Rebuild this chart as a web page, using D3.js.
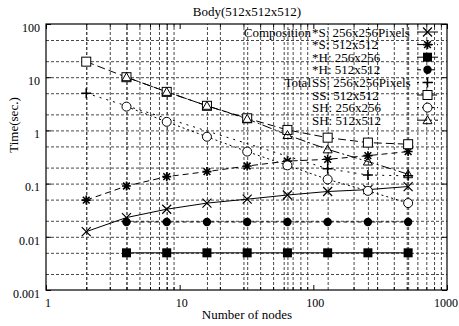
<!DOCTYPE html>
<html>
<head>
<meta charset="utf-8">
<script src="https://cdn.jsdelivr.net/npm/d3@7"></script>
<style>
  body { margin: 0; background: #fff; }
  text { font-family: "Liberation Serif", "DejaVu Serif", serif; fill: #000; }
</style>
</head>
<body>
<script>
var w = 459;
var h = 326;
var margin = {top: 24, right: 12, bottom: 36, left: 46};

// number of nodes on the x axis
const nodes = [2, 4, 8, 16, 32, 64, 128, 256, 512];

// composition times (sec.)
const compS256 = [0.0125, 0.023, 0.033, 0.043, 0.051, 0.061, 0.071, 0.077, 0.088];
const compS512 = [0.049, 0.09, 0.135, 0.168, 0.214, 0.265, 0.286, 0.335, 0.40];
const compH256 = [null, 0.005, 0.005, 0.005, 0.005, 0.005, 0.005, 0.005, 0.005];
const compH512 = [null, 0.019, 0.019, 0.019, 0.019, 0.019, 0.019, 0.019, 0.019];

// total times (sec.)
const totalSS256 = [5.0, null, null, null, null, null, 0.19, 0.145, 0.14];
const totalSS512 = [19.6, 10, 5.3, 2.9, 1.69, 1.02, 0.73, 0.59, 0.55];
const totalSH256 = [null, 2.8, 1.45, 0.76, 0.40, 0.22, 0.12, 0.073, 0.043];
const totalSH512 = [null, 10, 5.3, 2.9, 1.65, 0.82, 0.44, 0.26, 0.15];

const xTicks = [1, 10, 100, 1000];
const yTicks = [100, 10, 1, 0.1, 0.01, 0.001];

const seriesNames = [
  ["Composition ", "*S: 256x256Pixels"],
  ["", "*S: 512x512"],
  ["", "*H: 256x256"],
  ["", "*H: 512x512"],
  ["Total ", "SS: 256x256Pixels"],
  ["", "SS: 512x512"],
  ["", "SH: 256x256"],
  ["", "SH: 512x512"]
];
const seriesValues = [compS256, compS512, compH256, compH512, totalSS256, totalSS512, totalSH256, totalSH512];
const seriesMarks = ["times", "star", "fsquare", "fcircle", "plus", "square", "circle", "triangle"];
const seriesDash = [null, "6,4", null, "4,3", "2,5", "8,4", "2,3", "10,3,2,3"];

window.onload = function() {
  var iw = w - margin.left - margin.right;
  var ih = h - margin.top - margin.bottom;

  var svg = d3.select("body").append("svg")
      .attr("width", w)
      .attr("height", h);

  var g = svg.append("g")
      .attr("transform", "translate(" + margin.left + "," + margin.top + ")");

  var x = d3.scaleLog().domain([1, 1000]).range([0, iw]);
  var y = d3.scaleLog().domain([0.001, 100]).range([ih, 0]);

  // minor values
  var xMinor = [];
  [1, 10, 100].forEach(function(d) {
    for (var k = 2; k <= 9; k++) xMinor.push(d * k);
  });
  var yGrid = [];
  [0.001, 0.01, 0.1, 1, 10].forEach(function(d) {
    yGrid.push(d * 2, d * 5);
    if (d > 0.001) yGrid.push(d);
  });

  // grid lines
  g.append("g")
      .attr("class", "grid")
      .attr("transform", "translate(0," + ih + ")")
      .call(d3.axisBottom(x).tickValues(xMinor.concat(nodes)).tickSize(-ih).tickFormat(""));
  g.append("g")
      .attr("class", "grid")
      .call(d3.axisLeft(y).tickValues(yGrid).tickSize(-iw).tickFormat(""));
  g.selectAll(".grid .domain").remove();
  g.selectAll(".grid line")
      .attr("stroke", "#333")
      .attr("stroke-width", 0.9)
      .attr("stroke-dasharray", "3,2");

  // series lines
  var line = d3.line()
      .defined(function(d) { return d[1] != null; })
      .x(function(d) { return x(d[0]); })
      .y(function(d) { return y(d[1]); });

  seriesValues.forEach(function(vals, i) {
    var pts = nodes.map(function(n, j) { return [n, vals[j]]; })
        .filter(function(d) { return d[1] != null; });
    g.append("path")
        .datum(pts)
        .attr("fill", "none")
        .attr("stroke", "#000")
        .attr("stroke-width", 1)
        .attr("stroke-dasharray", seriesDash[i])
        .attr("d", line);
  });

  // markers
  seriesValues.forEach(function(vals, i) {
    var pts = nodes.map(function(n, j) { return [n, vals[j]]; })
        .filter(function(d) { return d[1] != null; });
    pts.forEach(function(d) {
      drawMark(g, seriesMarks[i], x(d[0]), y(d[1]));
    });
  });

  // axes with inward ticks
  var axisStyle = function(sel) {
    sel.selectAll("line").attr("stroke", "#000");
    sel.select(".domain").remove();
    sel.selectAll("text").style("font-size", "12px")
        .style("font-family", "Liberation Serif, serif");
  };
  g.append("g").attr("transform", "translate(0," + ih + ")")
      .call(d3.axisBottom(x).tickValues(xTicks).tickFormat(d3.format("")).tickSize(-5).tickPadding(8))
      .call(axisStyle)
      .selectAll("text").attr("dx", function(d) { return d == 1000 ? "-1.5" : "1.5"; });
  g.append("g").attr("transform", "translate(0," + ih + ")")
      .call(d3.axisBottom(x).tickValues(xMinor).tickFormat("").tickSize(-3))
      .call(axisStyle);
  g.append("g")
      .call(d3.axisTop(x).tickValues(xTicks).tickFormat("").tickSize(-5))
      .call(axisStyle);
  g.append("g")
      .call(d3.axisTop(x).tickValues(xMinor).tickFormat("").tickSize(-3))
      .call(axisStyle);
  g.append("g")
      .call(d3.axisLeft(y).tickValues(yTicks).tickFormat(function(d) { return String(d); }).tickSize(-5).tickPadding(6))
      .call(axisStyle)
      .selectAll("text").attr("dy", "0.6em");
  g.append("g").attr("transform", "translate(" + iw + ",0)")
      .call(d3.axisRight(y).tickValues(yTicks).tickFormat("").tickSize(-5))
      .call(axisStyle);

  // frame
  g.append("rect")
      .attr("width", iw)
      .attr("height", ih)
      .attr("fill", "none")
      .attr("stroke", "#000")
      .attr("stroke-width", 1.2);

  // legend
  var legend = g.append("g")
      .attr("transform", "translate(" + (312 - margin.left) + "," + (32 - margin.top) + ")");
  seriesNames.forEach(function(nm, i) {
    var ly = i * 12.6;
    var row = legend.append("g").attr("transform", "translate(0," + ly + ")");
    if (nm[0] != "") {
      row.append("text").attr("x", -1).attr("dy", "0.35em")
          .attr("text-anchor", "end").style("font-size", "13px").text(nm[0]);
    }
    row.append("text").attr("x", 0).attr("dy", "0.35em")
        .style("font-size", "13px").text(nm[1]);
    row.append("line")
        .attr("x1", 105).attr("x2", 126)
        .attr("stroke", "#000")
        .attr("stroke-width", 1)
        .attr("stroke-dasharray", seriesDash[i]);
    drawMark(row, seriesMarks[i], 115.5, 0);
  });

  // titles
  svg.append("text")
      .attr("x", 247).attr("y", 16)
      .attr("text-anchor", "middle")
      .style("font-size", "13px")
      .text("Body(512x512x512)");
  svg.append("text")
      .attr("x", 247).attr("y", 319)
      .attr("text-anchor", "middle")
      .style("font-size", "13px")
      .text("Number of nodes");
  svg.append("text")
      .attr("transform", "translate(18,125) rotate(-90)")
      .attr("text-anchor", "middle")
      .style("font-size", "13px")
      .text("Time(sec.)");
};

function drawMark(sel, type, cx, cy) {
  var s = 4.5;
  if (type == "times") {
    sel.append("path")
        .attr("d", "M" + (cx - s) + "," + (cy - s) + "L" + (cx + s) + "," + (cy + s) +
                   "M" + (cx - s) + "," + (cy + s) + "L" + (cx + s) + "," + (cy - s))
        .attr("stroke", "#000").attr("stroke-width", 1.2);
  } else if (type == "plus") {
    sel.append("path")
        .attr("d", "M" + (cx - s - 0.5) + "," + cy + "L" + (cx + s + 0.5) + "," + cy +
                   "M" + cx + "," + (cy - s - 0.5) + "L" + cx + "," + (cy + s + 0.5))
        .attr("stroke", "#000").attr("stroke-width", 1.5);
  } else if (type == "star") {
    var d = "M" + (cx - s) + "," + cy + "L" + (cx + s) + "," + cy +
            "M" + cx + "," + (cy - s) + "L" + cx + "," + (cy + s) +
            "M" + (cx - s * 0.75) + "," + (cy - s * 0.75) + "L" + (cx + s * 0.75) + "," + (cy + s * 0.75) +
            "M" + (cx - s * 0.75) + "," + (cy + s * 0.75) + "L" + (cx + s * 0.75) + "," + (cy - s * 0.75);
    sel.append("path").attr("d", d).attr("stroke", "#000").attr("stroke-width", 1.6);
  } else if (type == "fsquare") {
    sel.append("rect").attr("x", cx - 4.5).attr("y", cy - 4.5)
        .attr("width", 9).attr("height", 9).attr("fill", "#000");
  } else if (type == "square") {
    sel.append("rect").attr("x", cx - 4.5).attr("y", cy - 4.5)
        .attr("width", 9).attr("height", 9)
        .attr("fill", "#fff").attr("stroke", "#000").attr("stroke-width", 1);
  } else if (type == "fcircle") {
    sel.append("circle").attr("cx", cx).attr("cy", cy).attr("r", 4.2).attr("fill", "#000");
  } else if (type == "circle") {
    sel.append("circle").attr("cx", cx).attr("cy", cy).attr("r", 4.5)
        .attr("fill", "#fff").attr("stroke", "#000").attr("stroke-width", 1);
  } else if (type == "triangle") {
    sel.append("path")
        .attr("d", "M" + cx + "," + (cy - 4.5) + "L" + (cx + 4.5) + "," + (cy + 3.5) +
                   "L" + (cx - 4.5) + "," + (cy + 3.5) + "Z")
        .attr("fill", "none").attr("stroke", "#000").attr("stroke-width", 1);
  }
}
</script>
</body>
</html>
